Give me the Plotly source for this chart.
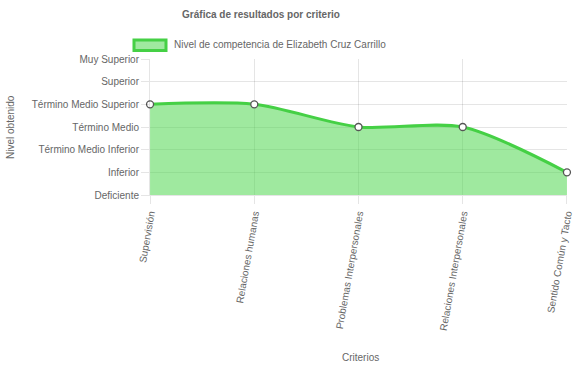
import plotly.graph_objects as go

categories = ["Supervisión", "Relaciones humanas", "Problemas Interpersonales",
              "Relaciones Interpersonales", "Sentido Común y Tacto"]
values = [4, 4, 3, 3, 1]
level_labels = ["Deficiente", "Inferior", "Término Medio Inferior", "Término Medio",
                "Término Medio Superior", "Superior", "Muy Superior"]
series_name = "Nivel de competencia de Elizabeth Cruz Carrillo"

FONT = "Liberation Sans, Arial, sans-serif"
GRID = "rgba(0,0,0,0.1)"
TXT = "#666"
FS = 10

W, H = 574, 368
L, R, T, B = 150, 7, 59, 173
PW, PH = W - L - R, H - T - B

def px_x(px):
    return (px - L) / PW

def px_y(py):
    return 1 - (py - T) / PH

fig = go.Figure()
fig.add_trace(go.Scatter(
    x=list(range(len(categories))), y=values, name=series_name, showlegend=False,
    mode="lines+markers", line=dict(color="#45d045", width=3, shape="spline", smoothing=0.8),
    fill="tozeroy", fillcolor="rgba(80,215,80,0.55)",
    marker=dict(size=7, color="white", line=dict(color="#555", width=1.3)),
    cliponaxis=False, hoverinfo="skip",
))

fig.update_layout(
    width=W, height=H,
    margin=dict(l=L, r=R, t=T, b=B),
    paper_bgcolor="white", plot_bgcolor="white",
    font=dict(family=FONT, size=FS, color=TXT),
    title=dict(text="<b>Gráfica de resultados por criterio</b>", x=261/W, xanchor="center",
               y=1 - 14/H, yanchor="middle", font=dict(size=FS, color=TXT)),
    showlegend=False,
    xaxis=dict(range=[-0.0005, len(categories) - 1 + 0.0005], tickvals=list(range(len(categories))),
               ticktext=categories, tickangle=-80, showgrid=True, gridcolor=GRID,
               ticks="outside", ticklen=8, tickcolor=GRID, showline=True, linecolor=GRID,
               zeroline=False, tickfont=dict(size=FS, color=TXT), automargin=False,
               ticklabeloverflow="allow"),
    yaxis=dict(range=[0, 6], tickvals=list(range(7)), ticktext=level_labels,
               showgrid=True, gridcolor=GRID, ticks="outside", ticklen=8, tickcolor=GRID,
               showline=True, linecolor=GRID, zeroline=False, tickfont=dict(size=FS, color=TXT),
               automargin=False, ticklabeloverflow="allow"),
    shapes=[
        dict(type="rect", xref="paper", yref="paper",
             x0=px_x(134), x1=px_x(166), y0=px_y(50.5), y1=px_y(40),
             fillcolor="rgba(80,215,80,0.55)", line=dict(color="#45d045", width=3)),
    ],
    annotations=[
        dict(text=series_name, xref="paper", yref="paper", x=px_x(172), y=px_y(45),
             xanchor="left", yanchor="middle", showarrow=False, font=dict(size=FS, color=TXT)),
        dict(text="Nivel obtenido", xref="paper", yref="paper", x=px_x(10), y=px_y(127),
             xanchor="center", yanchor="middle",
             textangle=-90, showarrow=False, font=dict(size=FS, color=TXT)),
        dict(text="Criterios", xref="paper", yref="paper", x=px_x(360), y=px_y(357),
             showarrow=False, font=dict(size=FS, color=TXT), yanchor="middle"),
    ],
)

fig.write_html("out.html", config={"displayModeBar": False},
               post_script="document.body.style.margin='0';")
